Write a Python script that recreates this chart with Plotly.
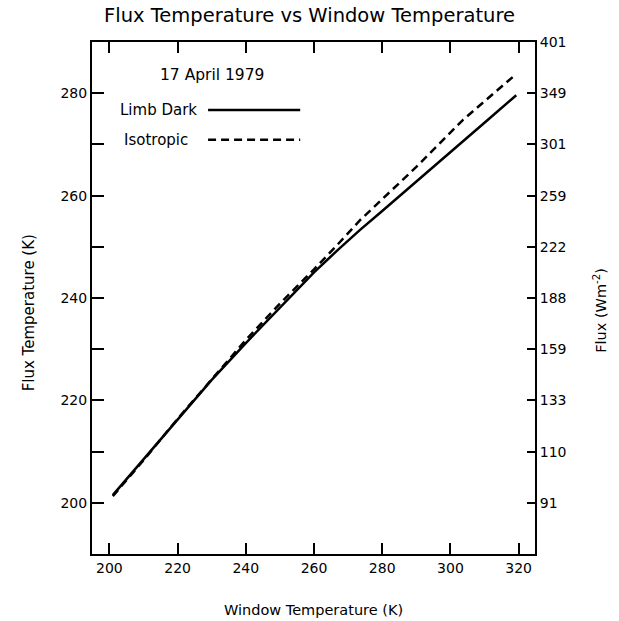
import plotly.graph_objects as go

# Data
window_limb = [201, 210, 220, 230, 240, 250, 260, 267, 273.5, 280, 290, 300, 311, 319.3]
flux_limb = [201.5, 208.5, 216.4, 224.0, 231.2, 238.2, 245.0, 249.4, 253.3, 257.0, 262.8, 268.6, 274.8, 279.6]

window_iso = [201, 210, 220, 230, 240, 250, 260, 267, 273.5, 280, 290, 303.7, 319.3]
flux_iso = [201.3, 208.3, 216.4, 224.2, 231.8, 238.9, 245.6, 250.5, 255.2, 259.3, 265.6, 274.8, 283.75]

x_ticks = [200, 220, 240, 260, 280, 300, 320]
y_ticks = [200, 220, 240, 260, 280]
y_minor_ticks = [210, 230, 250, 270]
right_tick_temps = [200, 210, 220, 230, 240, 250, 260, 270, 280, 290]
right_tick_labels = ["91", "110", "133", "159", "188", "222", "259", "301", "349", "401"]

FONT = "DejaVu Sans"

fig = go.Figure()
fig.add_trace(go.Scatter(x=window_limb, y=flux_limb, mode="lines",
                         line=dict(color="black", width=2.5), name="Limb Dark",
                         showlegend=False))
fig.add_trace(go.Scatter(x=window_iso, y=flux_iso, mode="lines",
                         line=dict(color="black", width=2.5, dash="8px,5px"),
                         name="Isotropic", showlegend=False))
# trace that activates the right-hand flux axis (same temperature scale)
fig.add_trace(go.Scatter(x=window_limb, y=flux_limb, yaxis="y2", mode="lines",
                         line=dict(color="rgba(0,0,0,0)", width=0),
                         showlegend=False, hoverinfo="skip"))

fig.update_layout(
    width=619, height=621,
    margin=dict(l=92, r=84, t=42, b=67),
    paper_bgcolor="white", plot_bgcolor="white",
    font=dict(family=FONT, color="black", size=14),
    title=dict(text="Flux Temperature vs Window Temperature", x=0.5, xanchor="center",
               y=0.975, yanchor="middle", font=dict(size=19.5, family=FONT)),
    xaxis=dict(range=[194.9, 324.8], tickvals=x_ticks, ticks="inside", ticklen=11,
               tickwidth=1.5, tickcolor="black", showgrid=False, zeroline=False,
               showline=True, linecolor="black", linewidth=2, mirror="ticks",
               tickfont=dict(size=14)),
    yaxis=dict(range=[190, 290], tickvals=y_ticks, ticks="inside", ticklen=12,
               tickwidth=1.5, tickcolor="black", showgrid=False, zeroline=False,
               showline=True, linecolor="black", linewidth=2, mirror=True,
               minor=dict(tickvals=y_minor_ticks, ticks="inside", ticklen=12,
                          tickwidth=1.5, tickcolor="black", showgrid=False),
               tickfont=dict(size=14)),
    yaxis2=dict(range=[190, 290], overlaying="y", side="right", tickvals=right_tick_temps,
                ticktext=right_tick_labels, ticks="inside", ticklen=8, tickwidth=1.5,
                tickcolor="black", showgrid=False, zeroline=False, showline=True,
                linecolor="black", linewidth=2, tickfont=dict(size=14)),
)

annotations = [
    dict(text="Window Temperature (K)", xref="paper", yref="paper", x=0.5, y=0,
         yshift=-46, xanchor="center", yanchor="top", showarrow=False,
         font=dict(size=14.5)),
    dict(text="Flux Temperature (K)", xref="paper", yref="paper", x=0, y=0.47,
         xshift=-63, xanchor="center", yanchor="middle", textangle=-90,
         showarrow=False, font=dict(size=15)),
    dict(text="Flux (Wm<sup>-2</sup>)", xref="paper", yref="paper", x=1, y=0.475,
         xshift=65, xanchor="center", yanchor="middle", textangle=-90,
         showarrow=False, font=dict(size=14.5)),
    dict(text="17 April 1979", xref="paper", yref="paper", x=0.271, y=0.936,
         xanchor="center", yanchor="middle", showarrow=False, font=dict(size=15.5)),
    dict(text="Limb Dark", xref="paper", yref="paper", x=0.0587, y=0.867,
         xanchor="left", yanchor="middle", showarrow=False, font=dict(size=15)),
    dict(text="Isotropic", xref="paper", yref="paper", x=0.0677, y=0.809,
         xanchor="left", yanchor="middle", showarrow=False, font=dict(size=15)),
]
fig.update_layout(annotations=annotations)

fig.add_shape(type="line", xref="paper", yref="paper", x0=0.262, x1=0.470,
              y0=0.867, y1=0.867, line=dict(color="black", width=2.5))
fig.add_shape(type="line", xref="paper", yref="paper", x0=0.262, x1=0.470,
              y0=0.809, y1=0.809, line=dict(color="black", width=2.5, dash="8px,5px"))

fig.write_html("out.html", config={"displayModeBar": False},
               post_script="document.body.style.margin='0';document.body.style.padding='0';")
